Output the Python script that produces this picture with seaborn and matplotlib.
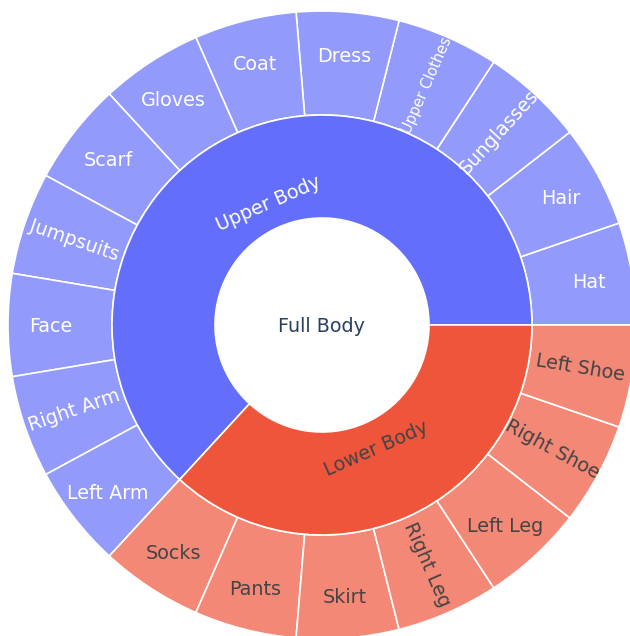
import numpy as np
import matplotlib
matplotlib.use("Agg")
import matplotlib.pyplot as plt
import seaborn as sns

# --------------------------------------------------
# DATA
# --------------------------------------------------

root_label = "Full Body"

branch_labels = ["Upper Body", "Lower Body"]

upper_parts = [
    "Hat", "Hair", "Sunglasses", "Upper Clothes", "Dress", "Coat",
    "Gloves", "Scarf", "Jumpsuits", "Face", "Right Arm", "Left Arm"
]

lower_parts = [
    "Socks", "Pants", "Skirt", "Right Leg", "Left Leg",
    "Right Shoe", "Left Shoe"
]

upper_values = [1] * len(upper_parts)
lower_values = [1] * len(lower_parts)

# --------------------------------------------------
# STYLE
# --------------------------------------------------

sns.set_style("white")
plt.rcParams["font.family"] = ["DejaVu Sans"]

branch_colors = sns.color_palette(["#636efa", "#ef553b"])
leaf_colors = ["#929afb", "#f48876"]
text_colors = ["white", "#444444"]

radial_labels = {
    "Sunglasses", "Upper Clothes", "Jumpsuits", "Right Arm",
    "Right Leg", "Right Shoe", "Left Shoe"
}
small_labels = {"Upper Clothes": 10.5}

R_HOLE, R_MID, R_OUT = 107, 210, 314
FONT = 13.8

# --------------------------------------------------
# FIGURE
# --------------------------------------------------

fig = plt.figure(figsize=(6.3, 6.36), dpi=100)
ax = fig.add_axes([0, 0, 1, 1])

leaf_labels = upper_parts + lower_parts
leaf_values = upper_values + lower_values
leaf_group = [0] * len(upper_parts) + [1] * len(lower_parts)
branch_values = [sum(upper_values), sum(lower_values)]

wedge_style = dict(edgecolor="white", linewidth=1.2)

ax.pie(
    leaf_values,
    radius=R_OUT,
    startangle=0,
    counterclock=True,
    colors=[leaf_colors[g] for g in leaf_group],
    wedgeprops=dict(width=R_OUT - R_MID, **wedge_style)
)

ax.pie(
    branch_values,
    radius=R_MID,
    startangle=0,
    counterclock=True,
    colors=branch_colors,
    wedgeprops=dict(width=R_MID - R_HOLE, **wedge_style)
)

# --------------------------------------------------
# LABELS
# --------------------------------------------------

total = sum(leaf_values)
start = 0.0

for label, value, g in zip(leaf_labels, leaf_values, leaf_group):

    span = 360.0 * value / total
    mid = start + span / 2
    start += span

    if label in radial_labels:
        r = 262
        rot = mid if (mid <= 90 or mid >= 270) else mid - 180
        if rot > 180:
            rot -= 360
        dy = 0
    else:
        r = 271
        rot = 0
        dy = -2

    ax.text(
        r * np.cos(np.radians(mid)),
        r * np.sin(np.radians(mid)) + dy,
        label,
        ha="center",
        va="center",
        rotation=rot,
        rotation_mode="anchor",
        fontsize=small_labels.get(label, FONT),
        color=text_colors[g]
    )

start = 0.0
for i, (label, value) in enumerate(zip(branch_labels, branch_values)):

    span = 360.0 * value / total
    mid = start + span / 2
    start += span

    rot = mid - 90
    if rot > 90:
        rot -= 180

    ax.text(
        134 * np.cos(np.radians(mid)),
        134 * np.sin(np.radians(mid)) - 1,
        label,
        ha="center",
        va="center",
        rotation=rot,
        rotation_mode="anchor",
        fontsize=FONT,
        color=text_colors[i]
    )

ax.text(
    0, -2,
    root_label,
    ha="center",
    va="center",
    fontsize=FONT,
    color="#2a3f5f"
)

ax.set_xlim(-322, 308)
ax.set_ylim(-311, 325)
ax.set_aspect("equal")
ax.axis("off")

fig.savefig("out.png", dpi=100)
